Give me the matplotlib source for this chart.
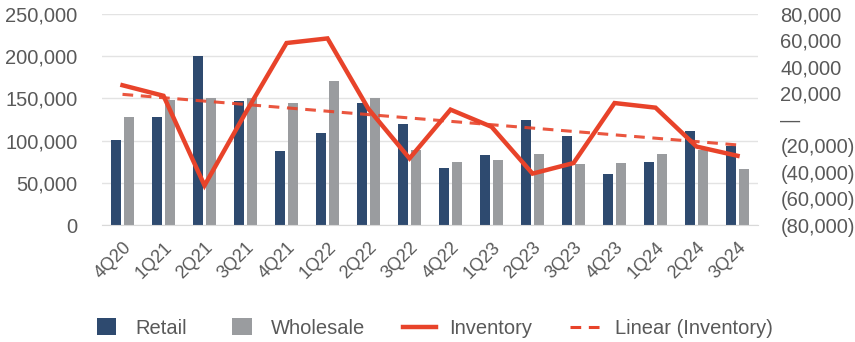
import numpy as np
import matplotlib.pyplot as plt
from matplotlib.patches import Patch, Rectangle
from matplotlib.lines import Line2D
from matplotlib.legend_handler import HandlerPatch
from matplotlib.ticker import FuncFormatter

plt.rcParams["font.family"] = ["Liberation Sans", "DejaVu Sans"]

# ---------------------------------------------------------------------------
# Quarterly data
# ---------------------------------------------------------------------------
quarters  = ["4Q20", "1Q21", "2Q21", "3Q21", "4Q21", "1Q22", "2Q22", "3Q22",
             "4Q22", "1Q23", "2Q23", "3Q23", "4Q23", "1Q24", "2Q24", "3Q24"]
retail    = [101000, 128000, 200000, 147000, 88000, 109000, 144000, 120000,
             68000, 83000, 125000, 105000, 61000, 75000, 112000, 94000]
wholesale = [128000, 148000, 150000, 150000, 144000, 171000, 150000, 89000,
             75000, 77000, 84000, 72000, 73000, 84000, 89000, 66000]
inventory = [26000, 18000, -50000, 5000, 58000, 61500, 8000, -29500,
             7500, -5500, -41000, -33000, 12500, 9000, -20500, -27500]

NAVY = "#2e4a6f"
GREY = "#9a9c9f"
RED  = "#e8432a"
TXT  = "#595959"

x = np.arange(len(quarters))
w = 0.26
off = 0.158

fig = plt.figure(figsize=(8.55, 3.42), dpi=100)
ax = fig.add_axes([0.1193, 0.342, 0.7673, 0.617])
ax2 = ax.twinx()

ax.bar(x - off, retail, width=w, color=NAVY, zorder=2)
ax.bar(x + off, wholesale, width=w, color=GREY, zorder=2)

# inventory on the secondary axis, with a least-squares trend line
coef = np.polyfit(x, inventory, 1)
trend = np.polyval(coef, x)
ax2.plot(x, inventory, color=RED, lw=3.2, solid_joinstyle="miter", zorder=3)
ax2.plot(x, trend, color=RED, lw=2.2, ls=(0, (3.5, 2.5)), alpha=0.9, zorder=3)

ax.set_xlim(-0.5, len(quarters) - 0.5)
ax.set_ylim(0, 250000)
ax.set_yticks(np.arange(0, 250001, 50000))
ax.yaxis.set_major_formatter(FuncFormatter(lambda v, p: f"{v:,.0f}"))
ax.grid(axis="y", color="#e3e3e3", lw=1, zorder=0)
ax.set_axisbelow(True)

ax2.set_ylim(-80000, 80000)
ax2.set_yticks(np.arange(-80000, 80001, 20000))


def paren_fmt(v, p):
    if abs(v) < 1:
        return "\u2014"
    if v < 0:
        return f"({-v:,.0f})"
    return f"{v:,.0f}"


ax2.yaxis.set_major_formatter(FuncFormatter(paren_fmt))

ax.set_xticks(x)
ax.set_xticklabels(quarters, rotation=45, ha="right", rotation_mode="anchor")

for a in (ax, ax2):
    for s in a.spines.values():
        s.set_visible(False)
ax.spines["bottom"].set_visible(True)
ax.spines["bottom"].set_color("#d9d9d9")

ax.tick_params(axis="y", length=0, pad=17.5, labelsize=14.5, labelcolor=TXT)
ax2.tick_params(axis="y", length=0, pad=16, labelsize=14.5, labelcolor=TXT)
ax.tick_params(axis="x", length=0, pad=10, labelsize=13, labelcolor=TXT)


def square_patch(legend, orig_handle, xdescent, ydescent, width, height, fontsize):
    # near-square marker centred in the handle box
    pw, ph = height * 1.4, height * 1.2
    return Rectangle((xdescent + (width - pw) / 2, ydescent - (ph - height) / 2), pw, ph)


handles = [
    Patch(facecolor=NAVY, label="Retail"),
    Patch(facecolor=GREY, label="Wholesale"),
    Line2D([], [], color=RED, lw=3.2, label="Inventory"),
    Line2D([], [], color=RED, lw=2.2, ls=(0, (3.5, 2.5)), label="Linear (Inventory)"),
]
fig.legend(handles=handles, loc="center", bbox_to_anchor=(0.505, 0.04),
           ncol=4, frameon=False, fontsize=14.5, labelcolor=TXT,
           handlelength=1.6, columnspacing=1.9, handletextpad=0.65,
           handler_map={Patch: HandlerPatch(patch_func=square_patch)})

fig.savefig("out.png", dpi=100)
